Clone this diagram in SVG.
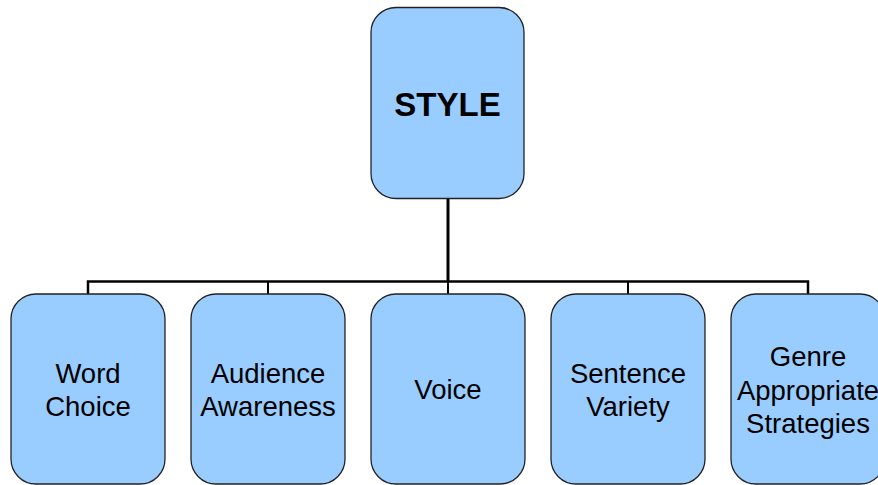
<svg xmlns="http://www.w3.org/2000/svg" width="878" height="485" viewBox="0 0 878 485">
<style>
.box{fill:#99ccff;stroke:#222;stroke-width:1.3}
.t{font-family:"Liberation Sans",Arial,sans-serif;font-size:27.5px;text-anchor:middle;fill:#000}
.b{font-weight:bold;font-size:33px}
.c{stroke:#000;fill:none}
</style>
<rect width="878" height="485" fill="#fff"/>
<g id="connectors">
<line class="c" x1="448" y1="198" x2="448" y2="282" stroke-width="3"/>
<polyline class="c" points="88,294 88,281.5 808,281.5 808,294" stroke-width="2.5"/>
<line class="c" x1="268" y1="281" x2="268" y2="294" stroke-width="2"/>
<line class="c" x1="628" y1="281" x2="628" y2="294" stroke-width="2"/>
<line class="c" x1="448" y1="281" x2="448" y2="294" stroke-width="2"/>
</g>
<g id="style">
<rect class="box" x="371" y="7.5" width="153" height="191" rx="25"/>
<text class="t b" x="447.5" y="116">STYLE</text>
</g>
<g id="word-choice">
<rect class="box" x="11" y="294" width="154" height="190" rx="25"/>
<text class="t" x="88" y="383">Word</text>
<text class="t" x="88" y="416">Choice</text>
</g>
<g id="audience-awareness">
<rect class="box" x="191" y="294" width="154" height="190" rx="25"/>
<text class="t" x="268" y="383">Audience</text>
<text class="t" x="268" y="416">Awareness</text>
</g>
<g id="voice">
<rect class="box" x="371" y="294" width="154" height="190" rx="25"/>
<text class="t" x="448" y="399">Voice</text>
</g>
<g id="sentence-variety">
<rect class="box" x="551" y="294" width="154" height="190" rx="25"/>
<text class="t" x="628" y="383">Sentence</text>
<text class="t" x="628" y="416">Variety</text>
</g>
<g id="genre">
<rect class="box" x="731" y="294" width="154" height="190" rx="25"/>
<text class="t" x="808" y="366">Genre</text>
<text class="t" x="808" y="400">Appropriate</text>
<text class="t" x="808" y="433">Strategies</text>
</g>
</svg>
